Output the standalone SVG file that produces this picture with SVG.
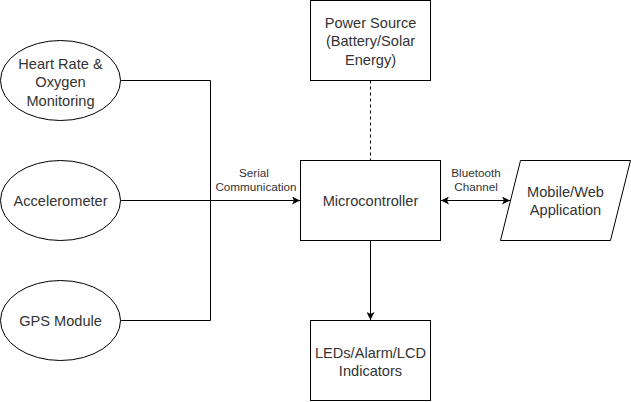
<svg xmlns="http://www.w3.org/2000/svg" width="631" height="402" viewBox="0 0 631 402">
<style>
.shape{fill:#ffffff;stroke:#000000;stroke-width:1}
.txt{font-family:"Liberation Sans",Arial,sans-serif;font-size:14.6px;fill:#333333;text-anchor:middle}
.lbl{font-family:"Liberation Sans",Arial,sans-serif;font-size:11.7px;fill:#333333;text-anchor:middle}
.line{fill:none;stroke:#000000;stroke-width:1}
</style>
<defs>
<marker id="arr" viewBox="0 0 10 10" refX="10" refY="5" markerWidth="8" markerHeight="8" markerUnits="userSpaceOnUse" orient="auto-start-reverse">
<path d="M0,0 L10,5 L0,10 L2.5,5 Z" fill="#000000"/>
</marker>
</defs>
<rect x="0" y="0" width="631" height="402" fill="#ffffff"/>
<g id="connectors">
<polyline class="line" points="120.5,80.5 210.5,80.5 210.5,320.5 120.5,320.5"/>
<line class="line" x1="120.5" y1="200.5" x2="300" y2="200.5" marker-end="url(#arr)"/>
<line class="line" x1="370.5" y1="80.5" x2="370.5" y2="160" stroke-dasharray="3,3"/>
<line class="line" x1="370.5" y1="240.5" x2="370.5" y2="320" marker-end="url(#arr)"/>
<line class="line" x1="441" y1="200.5" x2="510" y2="200.5" marker-start="url(#arr)" marker-end="url(#arr)"/>
<text class="lbl"><tspan x="254" y="177">Serial</tspan><tspan x="256" y="191">Communication</tspan></text>
<text class="lbl"><tspan x="476" y="177">Bluetooth</tspan><tspan x="476" y="191">Channel</tspan></text>
</g>
<g id="heart-rate">
<ellipse class="shape" cx="60.5" cy="80.5" rx="60" ry="40"/>
<text class="txt"><tspan x="60.5" y="68.5">Heart Rate &amp;</tspan><tspan x="60.5" y="87">Oxygen</tspan><tspan x="60.5" y="105.5">Monitoring</tspan></text>
</g>
<g id="accelerometer">
<ellipse class="shape" cx="60.5" cy="200.5" rx="60" ry="40"/>
<text class="txt" x="60.5" y="205.5">Accelerometer</text>
</g>
<g id="gps">
<ellipse class="shape" cx="60.5" cy="320.5" rx="60" ry="40"/>
<text class="txt" x="60.5" y="325.5">GPS Module</text>
</g>
<g id="power-source">
<rect class="shape" x="310.5" y="0.5" width="120" height="80"/>
<text class="txt"><tspan x="370.5" y="27.5">Power Source</tspan><tspan x="370.5" y="46">(Battery/Solar</tspan><tspan x="370.5" y="64.5">Energy)</tspan></text>
</g>
<g id="microcontroller">
<rect class="shape" x="300.5" y="160.5" width="140" height="80"/>
<text class="txt" x="370.5" y="205.5">Microcontroller</text>
</g>
<g id="indicators">
<rect class="shape" x="310.5" y="320.5" width="120" height="80"/>
<text class="txt"><tspan x="370.5" y="357.5">LEDs/Alarm/LCD</tspan><tspan x="370.5" y="376">Indicators</tspan></text>
</g>
<g id="mobile-app">
<polygon class="shape" points="520.5,160.5 630.5,160.5 610.5,240.5 500.5,240.5"/>
<text class="txt"><tspan x="565.5" y="196.5">Mobile/Web</tspan><tspan x="565.5" y="215">Application</tspan></text>
</g>
</svg>
